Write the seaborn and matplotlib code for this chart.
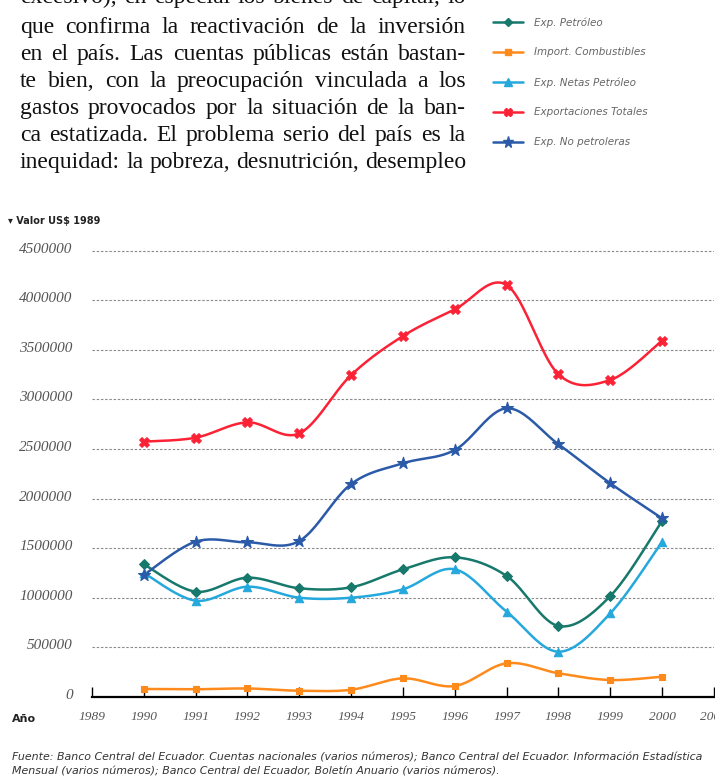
import numpy as np
import pandas as pd
import matplotlib
matplotlib.use('Agg')
import matplotlib.pyplot as plt
import matplotlib.transforms as mtransforms
from matplotlib.lines import Line2D
import seaborn as sns

# data (US$ of 1989)
years = [1990, 1991, 1992, 1993, 1994, 1995, 1996, 1997, 1998, 1999, 2000]
exp_petroleo = [1338000, 1062000, 1203000, 1096000, 1106000, 1287000, 1408000, 1220000, 716000, 1018000, 1777000]
import_combustibles = [81000, 78000, 86000, 63000, 73000, 188000, 111000, 340000, 239000, 171000, 205000]
exp_netas_petroleo = [1250000, 971000, 1112000, 1001000, 1001000, 1086000, 1287000, 860000, 457000, 844000, 1566000]
exp_totales = [2574000, 2614000, 2769000, 2658000, 3246000, 3639000, 3908000, 4153000, 3253000, 3196000, 3592000]
exp_no_petroleras = [1230000, 1566000, 1559000, 1573000, 2147000, 2356000, 2490000, 2910000, 2547000, 2154000, 1800000]

series_names = ['Exp. Petróleo', 'Import. Combustibles', 'Exp. Netas Petróleo',
                'Exportaciones Totales', 'Exp. No petroleras']
series_values = [exp_petroleo, import_combustibles, exp_netas_petroleo, exp_totales, exp_no_petroleras]
colors = ['#17786c', '#ff8a1c', '#25a8dc', '#fb2236', '#2b5aa8']
markers = ['D', 's', '^', 'X', '*']
marker_sizes = [5, 5, 6, 7, 9]

x_ticks = list(range(1989, 2002))
y_ticks = list(range(0, 4500001, 500000))

paragraph = [
    "excesivo), en especial los bienes de capital, lo",
    "que confirma la reactivación de la inversión",
    "en el país. Las cuentas públicas están bastan-",
    "te bien, con la preocupación vinculada a los",
    "gastos provocados por la situación de la ban-",
    "ca estatizada. El problema serio del país es la",
    "inequidad: la pobreza, desnutrición, desempleo",
]
source = [
    "Fuente: Banco Central del Ecuador. Cuentas nacionales (varios números); Banco Central del Ecuador. Información Estadística",
    "Mensual (varios números); Banco Central del Ecuador, Boletín Anuario (varios números).",
]


def smooth(x, y, n=24):
    # Excel-style smoothed line (Catmull-Rom as cubic Bezier)
    pts = np.column_stack([x, y]).astype(float)
    p = np.vstack([pts[0], pts, pts[-1]])
    t = np.linspace(0, 1, n)[:, None]
    out = []
    for i in range(1, len(p) - 2):
        p0, p1, p2, p3 = p[i - 1], p[i], p[i + 1], p[i + 2]
        c1 = p1 + (p2 - p0) / 6
        c2 = p2 - (p3 - p1) / 6
        b = (1 - t) ** 3 * p1 + 3 * (1 - t) ** 2 * t * c1 + 3 * (1 - t) * t ** 2 * c2 + t ** 3 * p2
        out.append(b if i == 1 else b[1:])
    return np.vstack(out)


sns.set_theme(style='white')
plt.rcParams['font.family'] = ['DejaVu Sans']

W, H = 715, 783
fig = plt.figure(figsize=(W / 100, H / 100), dpi=100)

y_top = 4560000
px_per_unit = 49.6 / 500000
ax_bottom_px = 697
ax_top_px = ax_bottom_px - y_top * px_per_unit
ax = fig.add_axes([92 / W, 1 - ax_bottom_px / H, (714 - 92) / W, (ax_bottom_px - ax_top_px) / H])

for name, vals, col, mk, ms in zip(series_names, series_values, colors, markers, marker_sizes):
    curve = smooth(years, vals)
    df = pd.DataFrame({'year': curve[:, 0], 'value': curve[:, 1]})
    sns.lineplot(data=df, x='year', y='value', sort=False, color=col, lw=1.8, ax=ax, zorder=3)
    pts = pd.DataFrame({'year': years, 'value': vals})
    sns.scatterplot(data=pts, x='year', y='value', marker=mk, s=ms ** 2, color=col,
                    edgecolor=col, linewidth=0.8, ax=ax, zorder=4)

ax.set_xlim(1989, 2001)
ax.set_ylim(0, y_top)
ax.set_xticks(x_ticks)
ax.set_xticklabels([str(v) for v in x_ticks])
ax.set_yticks(y_ticks)
ax.set_yticklabels([str(v) for v in y_ticks])
ax.set_xlabel(None)
ax.set_ylabel(None)

for yv in y_ticks[1:]:
    ax.axhline(yv, color='#8a8a8a', lw=0.8, ls=(0, (2.2, 1.6)), zorder=1)

for s in ['left', 'right', 'top']:
    ax.spines[s].set_visible(False)
ax.spines['bottom'].set_color('black')
ax.spines['bottom'].set_linewidth(1.6)
ax.tick_params(axis='x', direction='in', length=7, width=1, color='black', pad=10,
               labelsize=9.6, labelcolor='#555555', bottom=True)
ax.tick_params(axis='y', length=0, pad=14, labelsize=11, labelcolor='#555555')
for lbl in ax.get_xticklabels() + ax.get_yticklabels():
    lbl.set_fontstyle('italic')
    lbl.set_family(['Liberation Serif', 'DejaVu Serif'])
up = mtransforms.ScaledTranslation(0, 3 / 100, fig.dpi_scale_trans)
for lbl in ax.get_yticklabels():
    lbl.set_transform(lbl.get_transform() + up)

# axis captions
fig.text(8 / W, 1 - 221 / H, '▾ Valor US$ 1989', fontsize=7, fontweight='bold',
         color='#222222', va='center', ha='left', family=['Liberation Sans Narrow', 'DejaVu Sans'])
fig.text(12 / W, 1 - 719 / H, 'Año', fontsize=8, fontweight='bold',
         color='#222222', va='center', ha='left', family=['Liberation Sans Narrow', 'DejaVu Sans'])

# legend
handles = [Line2D([0], [0], color=c, lw=1.8, marker=m, markersize=ms * 0.9,
                  markerfacecolor=c, markeredgecolor=c)
           for c, m, ms in zip(colors, markers, marker_sizes)]
leg = fig.legend(handles, series_names, loc='upper left', bbox_to_anchor=(493 / W, 1 - 17 / H),
                 frameon=False, borderpad=0, borderaxespad=0, handlelength=2.9,
                 handletextpad=1.0, labelspacing=1.9,
                 prop={'size': 7.5, 'style': 'italic', 'family': ['DejaVu Sans']})
for t in leg.get_texts():
    t.set_color('#666666')

# body text above the chart, justified between two margins
renderer = fig.canvas.get_renderer()
left_px, right_px = 20, 466
for i, line in enumerate(paragraph):
    baseline = 3 + 27 * i if i == 0 else 6 + 27 * i
    words = line.split(' ')
    objs = [fig.text(0, 1 - baseline / H, w, fontsize=17, color='#111111',
                     family=['Liberation Serif', 'DejaVu Serif'], va='baseline', ha='left')
            for w in words]
    widths = [o.get_window_extent(renderer).width for o in objs]
    gap = (right_px - left_px - sum(widths)) / (len(words) - 1)
    x = left_px
    for o, w in zip(objs, widths):
        o.set_x(x / W)
        x += w + gap

# source note
for i, line in enumerate(source):
    fig.text(12 / W, 1 - (758 + 13 * i) / H, line, fontsize=7.9, style='italic',
             color='#333333', va='center', ha='left', family=['DejaVu Sans'])

fig.savefig('out.png', dpi=100)
